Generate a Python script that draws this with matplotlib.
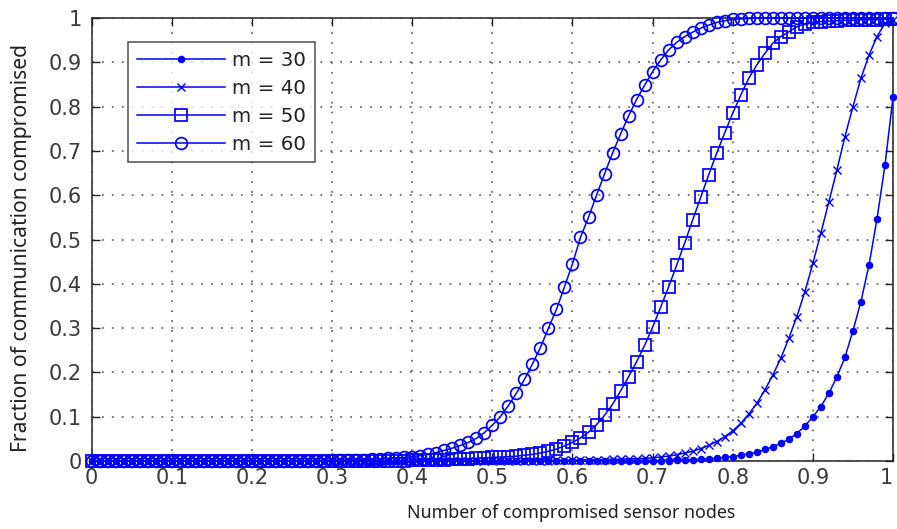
import numpy as np
import matplotlib
matplotlib.use("Agg")
import matplotlib.pyplot as plt
from matplotlib.ticker import FuncFormatter

# Fraction of node captures (x grid, step 0.01)
x = np.linspace(0.0, 1.0, 101)

# Fraction of communication compromised for each key-ring size m
m30 = [
    0.000, 0.000, 0.000, 0.000, 0.000, 0.000, 0.000, 0.000, 0.000, 0.000,
    0.000, 0.000, 0.000, 0.000, 0.000, 0.000, 0.000, 0.000, 0.000, 0.000,
    0.000, 0.000, 0.000, 0.000, 0.000, 0.000, 0.000, 0.000, 0.000, 0.000,
    0.000, 0.000, 0.000, 0.000, 0.000, 0.000, 0.000, 0.000, 0.000, 0.000,
    0.000, 0.000, 0.000, 0.000, 0.000, 0.000, 0.000, 0.000, 0.000, 0.000,
    0.000, 0.000, 0.000, 0.000, 0.000, 0.000, 0.000, 0.000, 0.000, 0.000,
    0.000, 0.000, 0.000, 0.000, 0.000, 0.000, 0.000, 0.001, 0.001, 0.001,
    0.001, 0.001, 0.001, 0.002, 0.002, 0.003, 0.004, 0.005, 0.006, 0.008,
    0.010, 0.013, 0.016, 0.020, 0.026, 0.032, 0.040, 0.049, 0.062, 0.079,
    0.100, 0.123, 0.153, 0.190, 0.234, 0.294, 0.360, 0.442, 0.546, 0.668,
    0.821,
]
m40 = [
    0.000, 0.000, 0.000, 0.000, 0.000, 0.000, 0.000, 0.000, 0.000, 0.000,
    0.000, 0.000, 0.000, 0.000, 0.000, 0.000, 0.000, 0.000, 0.000, 0.000,
    0.000, 0.000, 0.000, 0.000, 0.000, 0.000, 0.000, 0.000, 0.000, 0.000,
    0.000, 0.000, 0.000, 0.000, 0.000, 0.000, 0.000, 0.000, 0.000, 0.000,
    0.000, 0.000, 0.000, 0.000, 0.000, 0.000, 0.000, 0.000, 0.000, 0.000,
    0.000, 0.001, 0.001, 0.001, 0.001, 0.001, 0.001, 0.001, 0.002, 0.002,
    0.002, 0.002, 0.003, 0.003, 0.003, 0.004, 0.004, 0.005, 0.005, 0.006,
    0.007, 0.009, 0.011, 0.014, 0.018, 0.022, 0.028, 0.035, 0.044, 0.055,
    0.068, 0.085, 0.106, 0.130, 0.160, 0.194, 0.232, 0.277, 0.326, 0.382,
    0.446, 0.515, 0.585, 0.657, 0.732, 0.800, 0.864, 0.916, 0.958, 0.988,
    0.995,
]
m50 = [
    0.000, 0.000, 0.000, 0.000, 0.000, 0.000, 0.000, 0.000, 0.000, 0.000,
    0.000, 0.000, 0.000, 0.000, 0.000, 0.000, 0.000, 0.000, 0.000, 0.000,
    0.000, 0.000, 0.000, 0.000, 0.000, 0.000, 0.000, 0.000, 0.000, 0.000,
    0.000, 0.000, 0.000, 0.000, 0.000, 0.000, 0.001, 0.001, 0.001, 0.001,
    0.002, 0.002, 0.002, 0.003, 0.003, 0.004, 0.004, 0.005, 0.006, 0.007,
    0.008, 0.009, 0.010, 0.011, 0.013, 0.015, 0.018, 0.022, 0.027, 0.034,
    0.042, 0.052, 0.065, 0.082, 0.103, 0.128, 0.158, 0.190, 0.224, 0.261,
    0.302, 0.347, 0.393, 0.442, 0.492, 0.544, 0.595, 0.646, 0.695, 0.741,
    0.785, 0.826, 0.864, 0.894, 0.920, 0.943, 0.958, 0.969, 0.980, 0.987,
    0.990, 0.992, 0.993, 0.994, 0.995, 0.995, 0.996, 0.996, 0.996, 0.997,
    0.997,
]
m60 = [
    0.000, 0.000, 0.000, 0.000, 0.000, 0.000, 0.000, 0.000, 0.000, 0.000,
    0.000, 0.000, 0.000, 0.000, 0.000, 0.000, 0.000, 0.000, 0.000, 0.000,
    0.000, 0.000, 0.000, 0.000, 0.000, 0.001, 0.001, 0.001, 0.001, 0.001,
    0.002, 0.002, 0.002, 0.003, 0.003, 0.004, 0.005, 0.006, 0.007, 0.008,
    0.010, 0.012, 0.015, 0.019, 0.024, 0.029, 0.035, 0.042, 0.051, 0.064,
    0.081, 0.100, 0.125, 0.153, 0.184, 0.219, 0.256, 0.300, 0.342, 0.393,
    0.445, 0.505, 0.550, 0.600, 0.648, 0.695, 0.738, 0.779, 0.816, 0.848,
    0.879, 0.905, 0.928, 0.945, 0.958, 0.968, 0.977, 0.984, 0.990, 0.994,
    0.997, 0.998, 0.999, 1.000, 1.000, 1.000, 1.000, 1.000, 1.000, 1.000,
    1.000, 1.000, 1.000, 1.000, 1.000, 1.000, 1.000, 1.000, 1.000, 1.000,
    1.000,
]

series_labels = ["m = 30", "m = 40", "m = 50", "m = 60"]
x_ticks = [0, 0.1, 0.2, 0.3, 0.4, 0.5, 0.6, 0.7, 0.8, 0.9, 1]
y_ticks = [0, 0.1, 0.2, 0.3, 0.4, 0.5, 0.6, 0.7, 0.8, 0.9, 1]

W, H = 897, 529
fig = plt.figure(figsize=(W / 100, H / 100), dpi=100)
fig.patch.set_facecolor("white")
ax = fig.add_axes([91.7 / W, 1 - 461 / H, (893 - 91.7) / W, (461 - 18) / H])

blue = "#0000ff"
styles = [
    dict(marker=".", markersize=9, markerfacecolor=blue, markeredgewidth=0.9),
    dict(marker="x", markersize=6, markerfacecolor="none", markeredgewidth=1.0),
    dict(marker="s", markersize=8.5, markerfacecolor="none", markeredgewidth=1.25),
    dict(marker="o", markersize=8.5, markerfacecolor="none", markeredgewidth=1.25),
]
for ys, lab, st in zip([m30, m40, m50, m60], series_labels, styles):
    ax.plot(x, ys, color=blue, linewidth=1.1, markeredgecolor=blue,
            label=lab, clip_on=False, zorder=3, **st)

ax.set_xlim(0, 1)
ax.set_ylim(0, 1)
ax.set_xticks(x_ticks)
ax.set_yticks(y_ticks)
fmt = FuncFormatter(lambda v, p: f"{v:g}")
ax.xaxis.set_major_formatter(fmt)
ax.yaxis.set_major_formatter(fmt)

ax.tick_params(direction="in", length=6, width=1.0, top=True, right=True,
               color="#222222")
ax.tick_params(axis="x", pad=5)
ax.tick_params(axis="y", pad=7)

fig.canvas.draw()
for lab in ax.get_xticklabels() + ax.get_yticklabels():
    lab.set_fontfamily(["DejaVu Sans"])
    lab.set_fontsize(15)
    lab.set_color("#3a3a3a")
# keep the rightmost x tick label inside the canvas
ax.get_xticklabels()[-1].set_horizontalalignment("right")

for sp in ax.spines.values():
    sp.set_linewidth(1.1)
    sp.set_color("#222222")

ax.grid(True, color="#555555", linestyle=(0, (1.2, 5.3)), linewidth=1.1)
ax.set_axisbelow(True)

label_font = ["Noto Sans", "DejaVu Sans"]
ax.set_xlabel("Number of compromised sensor nodes", fontsize=12.8,
              family=label_font, color="#222222")
ax.xaxis.set_label_coords(0.598, -0.097)
ax.set_ylabel("Fraction of communication compromised", fontsize=15.2,
              family=label_font, color="#222222")
ax.yaxis.set_label_coords(-0.0745, 0.482)

leg = ax.legend(loc="upper left", bbox_to_anchor=(0.0457, 0.945),
                borderaxespad=0, frameon=True, fancybox=False,
                edgecolor="#222222", handlelength=4.45, handletextpad=0.36,
                labelspacing=0.46, borderpad=0.42,
                prop=dict(family=["DejaVu Sans"], size=14.3))
leg.get_frame().set_linewidth(1.1)
leg.set_zorder(5)
for t in leg.get_texts():
    t.set_color("#222222")

fig.savefig("out.png", dpi=100, facecolor="white")
